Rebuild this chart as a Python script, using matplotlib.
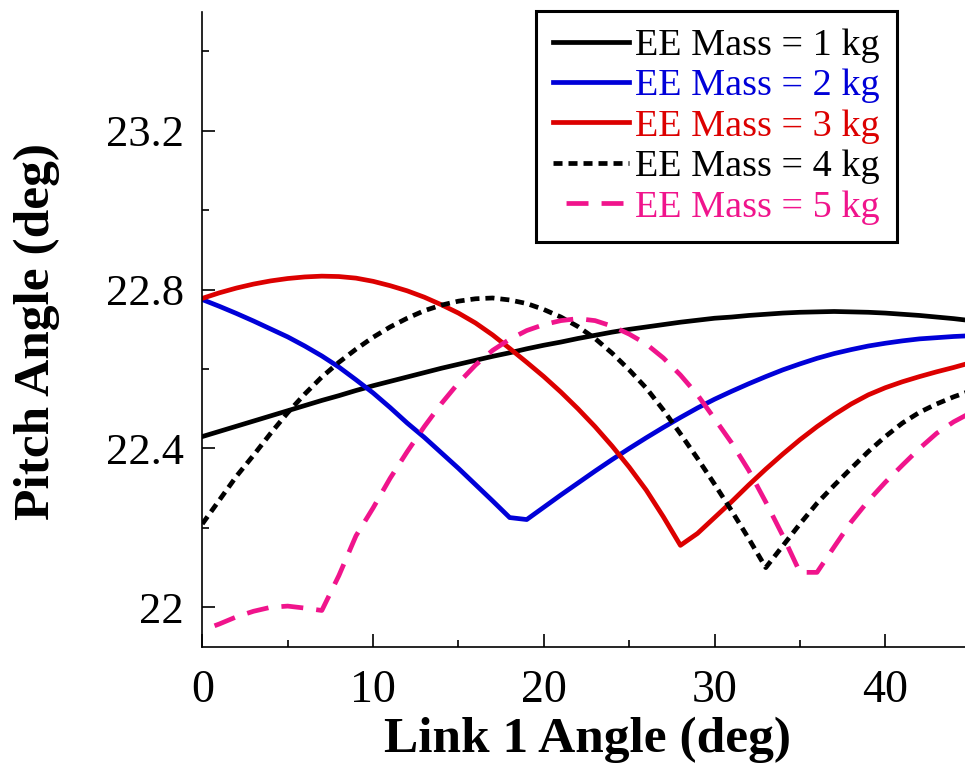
import matplotlib
matplotlib.use("Agg")
import matplotlib.pyplot as plt
from matplotlib.ticker import MultipleLocator

plt.rcParams['lines.scale_dashes'] = False
plt.rcParams['font.family'] = ['Liberation Serif', 'DejaVu Serif']

link_angle = list(range(0, 46))

pitch_1kg = [22.430, 22.443, 22.456, 22.469, 22.482, 22.495, 22.508, 22.521, 22.533, 22.546,
             22.558, 22.569, 22.580, 22.591, 22.602, 22.612, 22.622, 22.632, 22.641, 22.651,
             22.660, 22.668, 22.677, 22.685, 22.693, 22.700, 22.706, 22.712, 22.718, 22.723,
             22.728, 22.731, 22.735, 22.738, 22.741, 22.743, 22.744, 22.745, 22.744, 22.743,
             22.741, 22.738, 22.735, 22.731, 22.727, 22.722]

pitch_2kg = [22.775, 22.758, 22.740, 22.721, 22.701, 22.681, 22.658, 22.633, 22.605, 22.573,
             22.540, 22.503, 22.464, 22.428, 22.389, 22.350, 22.309, 22.268, 22.226, 22.221,
             22.252, 22.283, 22.313, 22.343, 22.372, 22.400, 22.427, 22.453, 22.478, 22.502,
             22.524, 22.544, 22.563, 22.581, 22.598, 22.613, 22.627, 22.639, 22.649, 22.658,
             22.665, 22.671, 22.676, 22.679, 22.682, 22.684]

pitch_3kg = [22.778, 22.792, 22.804, 22.814, 22.822, 22.828, 22.832, 22.834, 22.833, 22.829,
             22.821, 22.810, 22.797, 22.781, 22.762, 22.741, 22.716, 22.686, 22.652, 22.617,
             22.581, 22.542, 22.500, 22.455, 22.406, 22.353, 22.295, 22.228, 22.156, 22.186,
             22.226, 22.266, 22.308, 22.348, 22.386, 22.422, 22.455, 22.485, 22.512, 22.535,
             22.553, 22.568, 22.581, 22.593, 22.604, 22.616]

pitch_4kg = [22.210, 22.270, 22.330, 22.383, 22.438, 22.490, 22.537, 22.580, 22.617, 22.650,
             22.680, 22.706, 22.728, 22.747, 22.761, 22.771, 22.777, 22.779, 22.774, 22.765,
             22.750, 22.731, 22.707, 22.677, 22.640, 22.598, 22.552, 22.497, 22.437, 22.375,
             22.310, 22.243, 22.173, 22.100, 22.155, 22.210, 22.262, 22.307, 22.350, 22.392,
             22.430, 22.464, 22.491, 22.512, 22.530, 22.545]

pitch_5kg = [21.942, 21.958, 21.976, 21.990, 22.000, 22.003, 21.998, 21.992, 22.080, 22.180,
             22.250, 22.325, 22.392, 22.455, 22.513, 22.565, 22.610, 22.647, 22.675, 22.697,
             22.712, 22.722, 22.727, 22.722, 22.708, 22.688, 22.663, 22.628, 22.585, 22.535,
             22.475, 22.414, 22.345, 22.265, 22.180, 22.088, 22.088, 22.152, 22.215, 22.268,
             22.315, 22.358, 22.400, 22.438, 22.467, 22.490]

labels = ["EE Mass = 1 kg", "EE Mass = 2 kg", "EE Mass = 3 kg",
          "EE Mass = 4 kg", "EE Mass = 5 kg"]
x_ticks = [0, 10, 20, 30, 40]
y_ticks = [22.0, 22.4, 22.8, 23.2]
y_tick_labels = ["22", "22.4", "22.8", "23.2"]

W, H = 965, 766
fig = plt.figure(figsize=(W / 100, H / 100), dpi=100)
left_px, right_px, top_px, bottom_px = 202.3, 970.7, 11.7, 647.0
ax = fig.add_axes([left_px / W, 1 - bottom_px / H,
                   (right_px - left_px) / W, (bottom_px - top_px) / H])

lw = 3.4
ax.plot(link_angle, pitch_1kg, color='black', lw=lw, label=labels[0])
ax.plot(link_angle, pitch_2kg, color='#0000d8', lw=lw, label=labels[1])
ax.plot(link_angle, pitch_3kg, color='#dc0000', lw=lw, label=labels[2])
ax.plot(link_angle, pitch_4kg, color='black', lw=lw, label=labels[3],
        dashes=(6.5, 4.3), dash_capstyle='butt')
ax.plot(link_angle, pitch_5kg, color='#f0148c', lw=lw, label=labels[4],
        linestyle=(15.8, (15.8, 9.4)), dash_capstyle='butt')

ax.set_xlim(0, 45)
ax.set_ylim(21.9, 23.5)
ax.set_xticks(x_ticks)
ax.set_yticks(y_ticks)
ax.set_yticklabels(y_tick_labels)
ax.xaxis.set_minor_locator(MultipleLocator(5))
ax.yaxis.set_minor_locator(MultipleLocator(0.2))

for s in ['top', 'right']:
    ax.spines[s].set_visible(False)
for s in ['left', 'bottom']:
    ax.spines[s].set_linewidth(1.2)

ax.tick_params(axis='both', which='major', direction='in', length=9.4, width=1.2)
ax.tick_params(axis='both', which='minor', direction='in', length=5, width=1.2)
ax.tick_params(axis='y', which='major', labelsize=32, pad=13)
ax.tick_params(axis='x', which='major', labelsize=33, pad=16)

ax.set_xlabel("Link 1 Angle (deg)", fontsize=37, fontweight='bold')
ax.set_ylabel("Pitch Angle (deg)", fontsize=37, fontweight='bold')
ax.xaxis.set_label_coords(0.501, -0.165)
ax.xaxis.label.set_va('baseline')
ax.yaxis.set_label_coords(-0.215, 0.497)
ax.yaxis.label.set_va('center')

leg = ax.legend(loc='upper right', bbox_to_anchor=(897 / W, 1 - 11 / H),
                bbox_transform=fig.transFigure, borderaxespad=0,
                prop={'family': 'Liberation Serif', 'size': 27.5},
                labelcolor='linecolor', fancybox=False, framealpha=1,
                edgecolor='black', handlelength=2.0, handletextpad=0.16,
                labelspacing=0.15, borderpad=0.45)
leg.get_frame().set_linewidth(2.2)

fig.savefig("out.png", dpi=100)
